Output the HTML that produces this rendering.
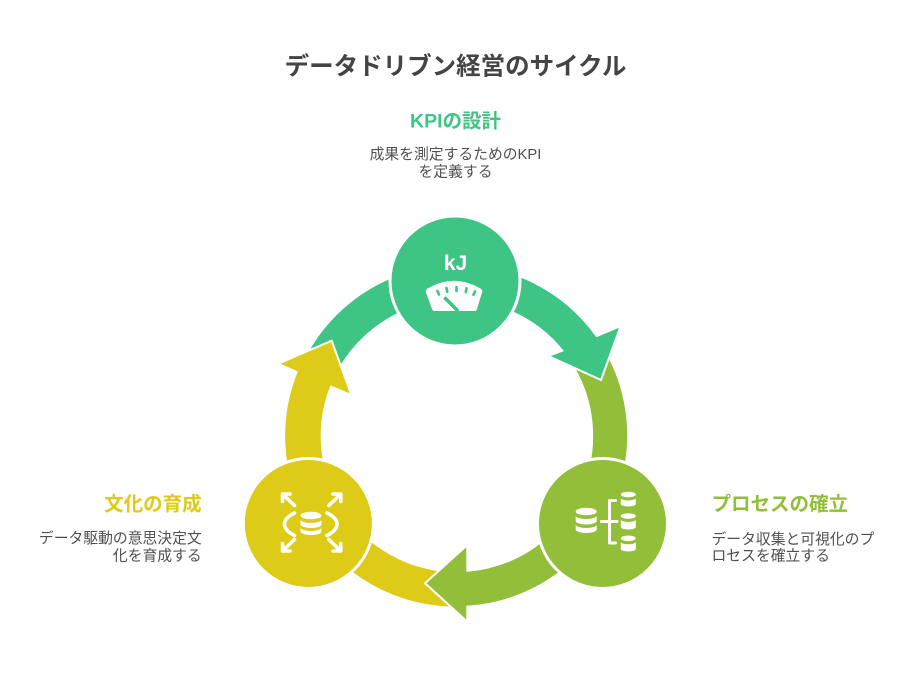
<!DOCTYPE html>
<html>
<head>
<meta charset="utf-8">
<style>
  html,body{margin:0;padding:0;background:#fff;}
  body{width:912px;height:684px;overflow:hidden;}
  svg{display:block;}
  text{font-family:"Liberation Sans","Noto Sans CJK JP",sans-serif;}
</style>
</head>
<body>
<svg width="912" height="684" viewBox="0 0 912 684" xmlns="http://www.w3.org/2000/svg">
  <!-- Title -->
  <text x="455.5" y="74.5" font-size="24.5" font-weight="bold" fill="#444444" text-anchor="middle">データドリブン経営のサイクル</text>

  <!-- Top label -->
  <text x="455.5" y="127.4" font-size="19.5" font-weight="bold" fill="#3EC484" text-anchor="middle">KPIの設計</text>
  <text x="455.5" y="158.9" font-size="14.8" fill="#505050" text-anchor="middle">成果を測定するためのKPI</text>
  <text x="455.5" y="176.3" font-size="14.8" fill="#505050" text-anchor="middle">を定義する</text>

  <!-- Right label -->
  <text x="711.5" y="510.7" font-size="19.5" font-weight="bold" fill="#92BE3A" text-anchor="start">プロセスの確立</text>
  <text x="711.5" y="543.9" font-size="14.8" fill="#505050" text-anchor="start">データ収集と可視化のプ</text>
  <text x="711.5" y="560.6" font-size="14.8" fill="#505050" text-anchor="start">ロセスを確立する</text>

  <!-- Left label -->
  <text x="201.7" y="510.4" font-size="19.5" font-weight="bold" fill="#DECB17" text-anchor="end">文化の育成</text>
  <text x="201.7" y="543" font-size="14.8" fill="#505050" text-anchor="end">データ駆動の意思決定文</text>
  <text x="201.7" y="560.6" font-size="14.8" fill="#505050" text-anchor="end">化を育成する</text>

  <!-- Arrows -->
  <g stroke="#ffffff" stroke-width="2" stroke-linejoin="miter">
    <path fill="#DECB17" d="M460,607.5 A171.5,171.5 0 0 1 296.7,371.7 L279,363.3 L331.7,340.7 L351,394 L331,386.7 A135.3,135.3 0 0 0 459.4,571.3 Z"/>
    <path fill="#92BE3A" d="M602.4,345.1 A171.5,171.5 0 0 1 467.3,606.7 L467.3,621.7 L425,583.3 L467.3,545 L467.3,570.7 A135.3,135.3 0 0 0 571.7,364.3 Z"/>
    <path fill="#3EC484" d="M301.6,363.5 A171.5,171.5 0 0 1 596.7,336 L620.7,326 L601,380 L548.3,356 L562.3,350.7 A135.3,135.3 0 0 0 334.4,378.8 Z"/>
  </g>
  <!-- yellow arrowhead overlay on green tail -->
  <polygon points="279,363.3 331.7,340.7 351,394" fill="#DECB17"/>
  <polyline points="279,363.3 331.7,340.7 351,394" fill="none" stroke="#ffffff" stroke-width="2"/>

  <!-- Circles -->
  <circle cx="455" cy="281" r="65" fill="#3EC484" stroke="#ffffff" stroke-width="3"/>
  <circle cx="602.5" cy="523.5" r="65" fill="#92BE3A" stroke="#ffffff" stroke-width="3"/>
  <circle cx="308.3" cy="523.5" r="65" fill="#DECB17" stroke="#ffffff" stroke-width="3"/>

  <!-- Top icon: kJ scale -->
  <text x="455.5" y="270" font-size="21" font-weight="bold" fill="#ffffff" text-anchor="middle">kJ</text>
  <path fill="#ffffff" d="M427.5,288.5 Q454,273 480.5,288.5 Q483,290 482,292.5 L477,309 Q476.5,311 474.5,311 L434.5,311 Q432.5,311 432,309 L426,292.5 Q425,290 427.5,288.5 Z"/>
  <g stroke="#3EC484" stroke-width="2.6" stroke-linecap="round" fill="none">
    <line x1="437.5" y1="291" x2="439" y2="294.5"/>
    <line x1="446.5" y1="288" x2="447.2" y2="291.8"/>
    <line x1="456.5" y1="287" x2="456.5" y2="291"/>
    <line x1="466.5" y1="288.3" x2="465.8" y2="292.1"/>
    <line x1="475" y1="291.3" x2="473.5" y2="294.8"/>
    <line x1="445.5" y1="298.5" x2="457" y2="310" stroke-width="3.6"/>
  </g>

  <!-- Right icon: databases with brace -->
  <g fill="#ffffff">
    <ellipse cx="586.2" cy="511.5" rx="10.5" ry="3.8"/>
    <path d="M575.7,515.5 A10.5,3.5 0 0 0 596.7,515.5 L596.7,521 A10.5,3.5 0 0 1 575.7,521 Z"/>
    <path d="M575.7,524.5 A10.5,3.5 0 0 0 596.7,524.5 L596.7,529.5 A10.5,3.5 0 0 1 575.7,529.5 Z"/>

    <ellipse cx="628.3" cy="494.5" rx="7.5" ry="2.8"/>
    <path d="M620.8,498 A7.5,2.5 0 0 0 635.8,498 L635.8,504 A7.5,2.5 0 0 1 620.8,504 Z"/>
    <ellipse cx="628.3" cy="516" rx="7.5" ry="2.8"/>
    <path d="M620.8,519.5 A7.5,2.5 0 0 0 635.8,519.5 L635.8,527 A7.5,2.5 0 0 1 620.8,527 Z"/>
    <ellipse cx="628.3" cy="538.3" rx="7.5" ry="2.8"/>
    <path d="M620.8,541.8 A7.5,2.5 0 0 0 635.8,541.8 L635.8,549 A7.5,2.5 0 0 1 620.8,549 Z"/>
  </g>
  <g stroke="#ffffff" stroke-width="3" stroke-linecap="round" stroke-linejoin="round" fill="none">
    <path d="M615.5,500.5 L609.5,500.5 L609.5,543 L615.5,543"/>
    <path d="M601.5,521.5 L617,521.5"/>
  </g>

  <!-- Left icon: expand arrows around database -->
  <g stroke="#ffffff" stroke-width="3.6" stroke-linecap="round" stroke-linejoin="round" fill="none">
    <path d="M282.5,501.5 L282.5,494 L290,494"/>
    <line x1="283.5" y1="495" x2="294.5" y2="505.5"/>
    <path d="M333,494 L340.8,494 L340.8,501.5"/>
    <line x1="339.8" y1="495" x2="328.8" y2="505.5"/>
    <path d="M282.5,543.5 L282.5,551 L290,551"/>
    <line x1="283.5" y1="550" x2="294.5" y2="539.5"/>
    <path d="M333,551 L340.8,551 L340.8,543.5"/>
    <line x1="339.8" y1="550" x2="328.8" y2="539.5"/>
    <path d="M294.5,513 Q284.5,518 284.5,524 Q284.5,530.5 294.5,535.5"/>
    <path d="M327,513 Q337,518 337,524 Q337,530.5 327,535.5"/>
  </g>
  <g fill="#ffffff">
    <ellipse cx="311" cy="515.5" rx="10.5" ry="3.8"/>
    <path d="M300.5,519.5 A10.5,3.5 0 0 0 321.5,519.5 L321.5,524.5 A10.5,3.5 0 0 1 300.5,524.5 Z"/>
    <path d="M300.5,527.5 A10.5,3.5 0 0 0 321.5,527.5 L321.5,531.5 A10.5,3.5 0 0 1 300.5,531.5 Z"/>
  </g>
</svg>
</body>
</html>
